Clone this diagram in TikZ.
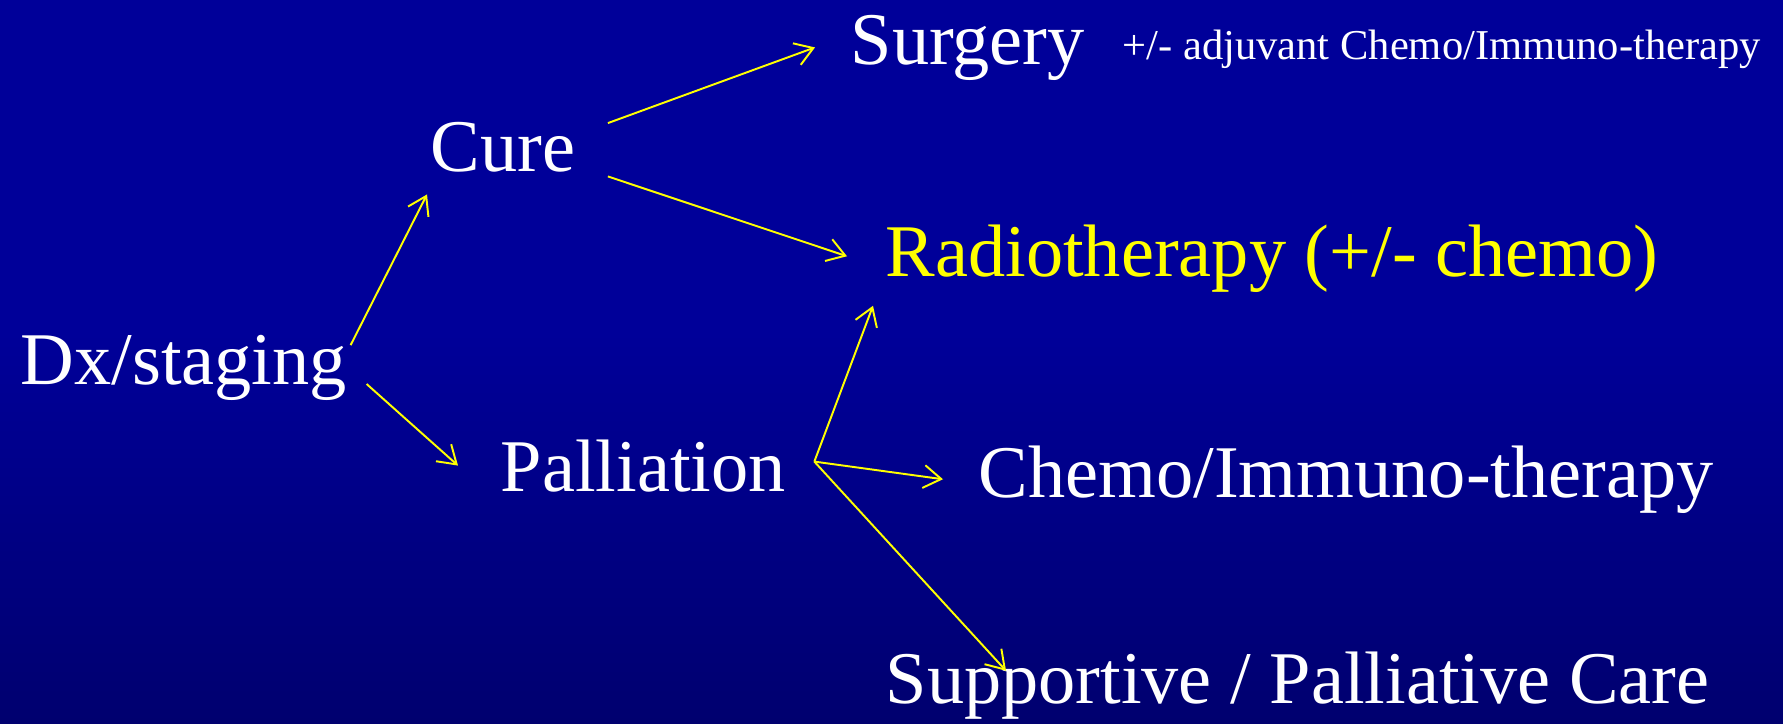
\documentclass[tikz,border=0pt]{standalone}
\usepackage{fontspec}
\setmainfont{Liberation Serif}
\usetikzlibrary{arrows.meta}

\definecolor{bgtop}{RGB}{0,0,153}
\definecolor{bgbottom}{RGB}{0,0,72}
\definecolor{flowyellow}{RGB}{255,255,0}

\pgfdeclareverticalshading{slideback}{100bp}{color(0bp)=(bgbottom); color(52bp)=(bgtop); color(100bp)=(bgtop)}

\begin{document}
\begin{tikzpicture}[x=0.1mm, y=-0.1mm,
    big text/.style={text=white, inner sep=0pt, anchor=base west, font=\fontsize{21.15}{25}\selectfont},
    small text/.style={big text, font=\fontsize{12.1}{14}\selectfont},
    flow/.style={draw=flowyellow, line width=0.55pt, -{Straight Barb[length=5pt,width=6.5pt]}}]

% --- Slide background ---
\shade[shading=slideback] (0,0) rectangle (1783,723);

% --- Stages ---
\node[big text] (dx) at (20,384) {Dx/staging};
\node[big text] (cure) at (430,171) {Cure};
\node[big text] (pall) at (500,491) {Palliation};

% --- Treatments ---
\node[big text] (surgery) at (850,64) {Surgery};
\node[small text] (adjuvant) at (1122,59) {+/- adjuvant Chemo/Immuno-therapy};
\node[big text, text=flowyellow] (radio) at (885,276) {Radiotherapy (+/- chemo)};
\node[big text] (chemo) at (978,497) {Chemo/Immuno-therapy};
\node[big text] (supp) at (885,703) {Supportive / Palliative Care};

% --- Arrows ---
\coordinate (fork) at ([shift={(28,-4)}]pall.east);
\draw[flow] ([shift={(3,11)}]dx.north east) -- ([shift={(-3,22)}]cure.south west);
\draw[flow] ([shift={(19,0)}]dx.base east) -- ([shift={(-42,0)}]pall.west);
\draw[flow] ([shift={(32,2)}]cure.north east) -- ([shift={(-35,0)}]surgery.west);
\draw[flow] ([shift={(32,4)}]cure.south east) -- ([shift={(-38,-2)}]radio.west);
\draw[flow] (fork) -- ([shift={(-12,13)}]radio.south west);
\draw[flow] (fork) -- ([shift={(-35,0)}]chemo.west);
\draw[flow] (fork) -- ([shift={(121,20)}]supp.north west);

\end{tikzpicture}
\end{document}
